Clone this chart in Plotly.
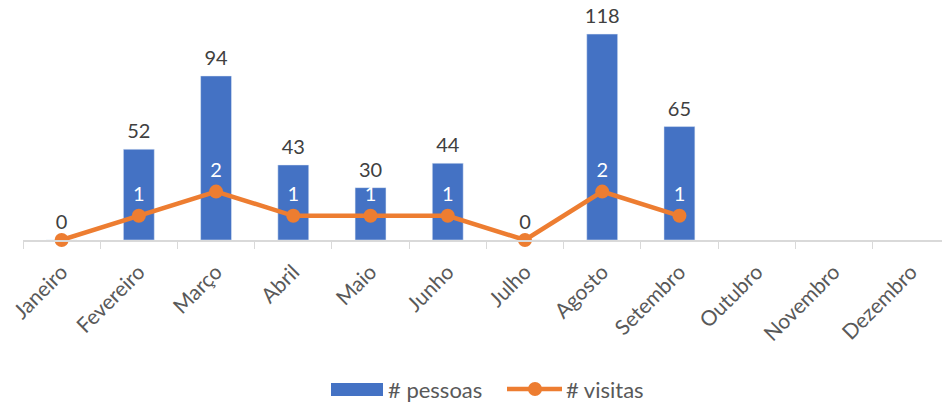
import plotly.graph_objects as go

meses = ["Janeiro", "Fevereiro", "Março", "Abril", "Maio", "Junho", "Julho",
         "Agosto", "Setembro", "Outubro", "Novembro", "Dezembro"]
pessoas = [0, 52, 94, 43, 30, 44, 0, 118, 65]
visitas = [0, 1, 2, 1, 1, 1, 0, 2, 1]

BLUE = "#4472C4"
ORANGE = "#ED7D31"
FONT = "Lato"

OFF = 0                 # page body margin removed via post_script
W, H = 942 - OFF, 403 - OFF
L, T = 23 - OFF, 10 - OFF
BOTTOM = 240 - OFF      # plot bottom in figure pixels
B = H - BOTTOM
plot_h = BOTTOM - T
plot_w = W - L

fig = go.Figure()
fig.add_trace(go.Bar(
    x=meses[:len(pessoas)], y=pessoas, name="# pessoas",
    marker=dict(color=BLUE), showlegend=False, yaxis="y",
))
# bar value labels
fig.add_trace(go.Scatter(
    x=meses[:len(pessoas)], y=pessoas, mode="markers+text",
    marker=dict(size=8, opacity=0), text=[str(v) for v in pessoas],
    textposition="top center", cliponaxis=False,
    textfont=dict(family=FONT, size=20, color="#404040"),
    showlegend=False, hoverinfo="skip", yaxis="y",
))
fig.add_trace(go.Scatter(
    x=meses[:len(visitas)], y=visitas, name="# visitas",
    mode="lines+markers+text",
    line=dict(color=ORANGE, width=4.5),
    marker=dict(color=ORANGE, size=14),
    text=[str(v) if v > 0 else "" for v in visitas],
    textposition="top center",
    textfont=dict(family=FONT, size=20, color="white"),
    cliponaxis=False, showlegend=False, yaxis="y2",
))

def py(s):
    return (BOTTOM - (s - OFF)) / plot_h

def px(s):
    return ((s - OFF) - L) / plot_w

ly = py(389)
shapes = [
    dict(type="rect", xref="paper", yref="paper",
         x0=px(331), x1=px(383), y0=py(396), y1=py(383),
         fillcolor=BLUE, line=dict(width=0)),
    dict(type="line", xref="paper", yref="paper",
         x0=px(507), x1=px(562), y0=ly, y1=ly,
         line=dict(color=ORANGE, width=4.5)),
    dict(type="circle", xref="paper", yref="paper",
         x0=px(528), x1=px(542), y0=py(396), y1=py(382),
         fillcolor=ORANGE, line=dict(width=0)),
]
annotations = [
    dict(text="# pessoas", xref="paper", yref="paper", x=px(386), y=ly,
         xanchor="left", yanchor="middle", showarrow=False,
         font=dict(family=FONT, size=22, color="#595959")),
    dict(text="# visitas", xref="paper", yref="paper", x=px(564), y=ly,
         xanchor="left", yanchor="middle", showarrow=False,
         font=dict(family=FONT, size=22, color="#595959")),
]

fig.update_layout(
    width=W, height=H,
    margin=dict(l=L, r=0, t=T, b=B),
    paper_bgcolor="white", plot_bgcolor="white",
    bargap=0.6,
    showlegend=False,
    hovermode=False,
    shapes=shapes, annotations=annotations,
    xaxis=dict(
        type="category", categoryorder="array", categoryarray=meses,
        range=[-0.5, 11.4], showgrid=False,
        showline=True, linecolor="#D9D9D9", linewidth=1.5,
        ticks="outside", tickson="boundaries", ticklen=7, tickcolor="#D9D9D9",
        tickangle=-45, ticklabelstandoff=10,
        tickfont=dict(family=FONT, size=21, color="#595959"),
        fixedrange=True,
    ),
    yaxis=dict(range=[0, 131.8], visible=False, showgrid=False, fixedrange=True),
    yaxis2=dict(range=[0, 9.5], visible=False, showgrid=False,
                overlaying="y", side="right", fixedrange=True),
)

fig.write_html("out.html",
               config={"displayModeBar": False, "staticPlot": True},
               post_script="document.body.style.margin='0';document.body.style.overflow='hidden';")
